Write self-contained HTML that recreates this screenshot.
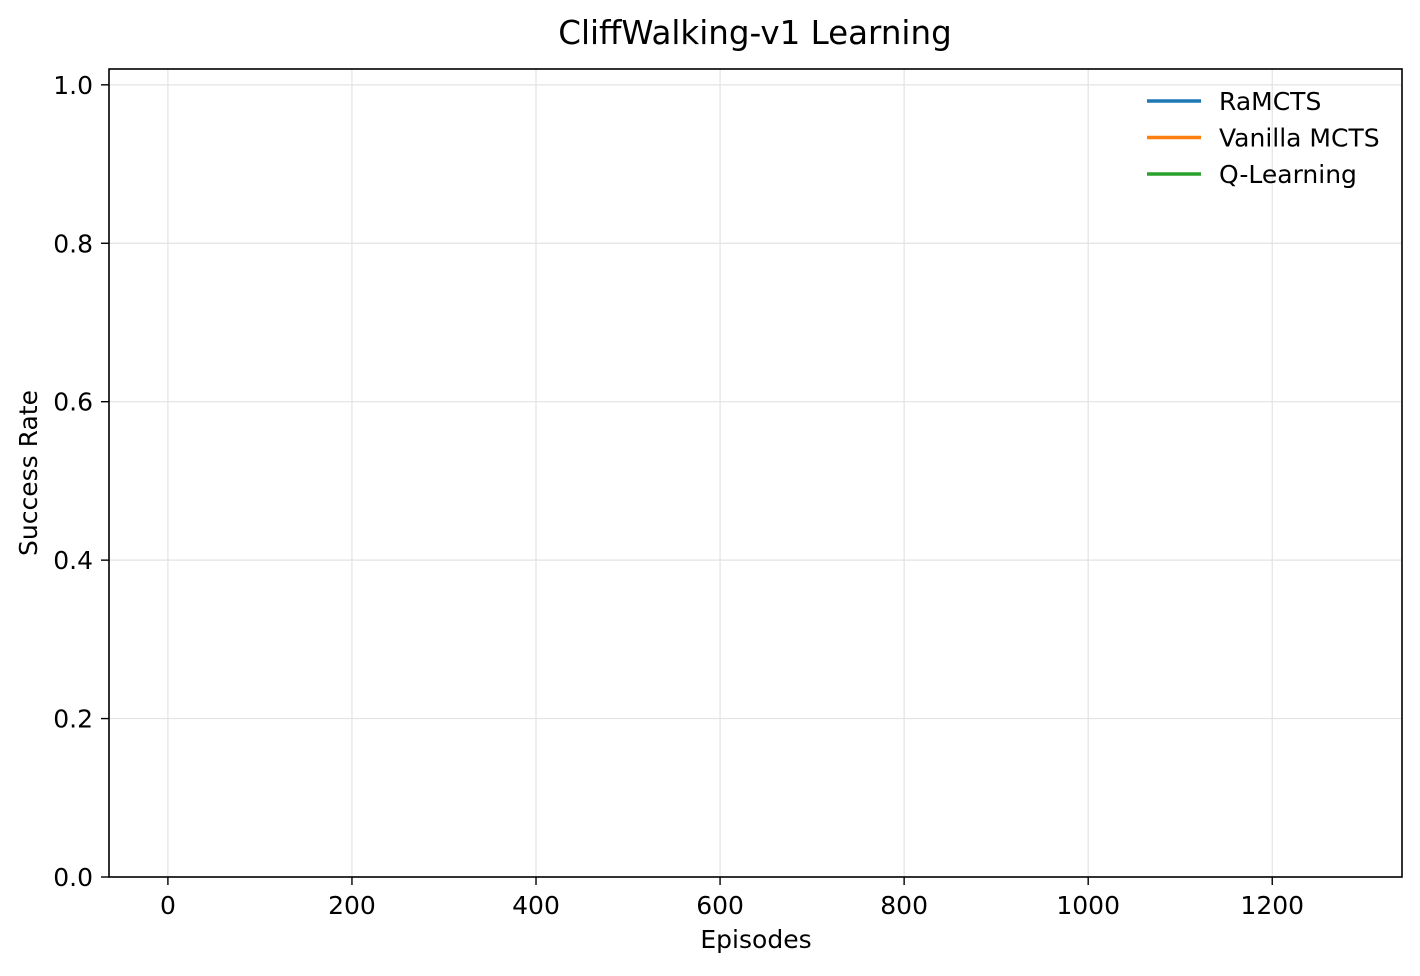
<!DOCTYPE html>
<html><head><meta charset="utf-8"><style>
body{margin:0;background:#fff;}
svg text{font-family:"DejaVu Sans","Liberation Sans",sans-serif;fill:#000;}
</style></head><body>
<svg id="chart" width="1420" height="971" viewBox="0 0 1420 971" xmlns="http://www.w3.org/2000/svg">
<rect width="1420" height="971" fill="#fff"/>
<text x="755" y="44" text-anchor="middle" font-size="32.5">CliffWalking-v1 Learning</text>
<g id="grid"></g>
<g id="series"></g>
<rect x="109" y="69" width="1293" height="808" fill="none" stroke="#000" stroke-width="1.6"/>
<g id="axes"></g>
<text x="756" y="948" text-anchor="middle" font-size="25">Episodes</text>
<text transform="translate(37,473) rotate(-90)" text-anchor="middle" font-size="25">Success Rate</text>
<g id="legend"></g>
</svg>
<script>
const xTicks = [0, 200, 400, 600, 800, 1000, 1200];
const yTicks = [0.0, 0.2, 0.4, 0.6, 0.8, 1.0];
const seriesNames = ["RaMCTS", "Vanilla MCTS", "Q-Learning"];
const episodes = [];
const ramctsValues = [];
const vanillaValues = [];
const qlearningValues = [];
const seriesColors = ["#1f77b4", "#ff7f0e", "#2ca02c"];

const NS = "http://www.w3.org/2000/svg";
const X0 = -64, X1 = 1341, Y0 = 0, Y1 = 1.02;
const L = 109, R = 1402, T = 69, B = 877;
const xs = v => L + (v - X0) / (X1 - X0) * (R - L);
const ys = v => B - (v - Y0) / (Y1 - Y0) * (B - T);
function mk(tag, attrs, parent) {
  const e = document.createElementNS(NS, tag);
  for (const k in attrs) e.setAttribute(k, attrs[k]);
  parent.appendChild(e);
  return e;
}
const grid = document.getElementById("grid"), axes = document.getElementById("axes");
xTicks.forEach(t => {
  const x = xs(t);
  const g = mk("line", {x1: x, x2: x, y1: T, y2: B, stroke: "#e3e3e3", "stroke-width": 1.2}, grid);
  
  
  const tk = mk("line", {x1: x, x2: x, y1: B, y2: B + 8, stroke: "#000", "stroke-width": 1.4}, axes);
  
  
  const lb = mk("text", {x: x, y: B + 37, "text-anchor": "middle", "font-size": 25}, axes);
  lb.textContent = t;
  
  
});
yTicks.forEach(t => {
  const y = ys(t);
  const g = mk("line", {x1: L, x2: R, y1: y, y2: y, stroke: "#e3e3e3", "stroke-width": 1.2}, grid);
  
  
  const tk = mk("line", {x1: L - 8, x2: L, y1: y, y2: y, stroke: "#000", "stroke-width": 1.4}, axes);
  
  
  const lb = mk("text", {x: L - 16, y: y + 9, "text-anchor": "end", "font-size": 25}, axes);
  lb.textContent = t.toFixed(1);
  
  
});
const sg = document.getElementById("series");
[ramctsValues, vanillaValues, qlearningValues].forEach((vals, i) => {
  const pts = vals.map((v, j) => xs(episodes[j]) + "," + ys(v)).join(" ");
  const pl = mk("polyline", {points: pts, fill: "none", stroke: seriesColors[i], "stroke-width": 3}, sg);
  
  
});
const lg = document.getElementById("legend");
seriesNames.forEach((n, i) => {
  const y = 101 + i * 36.5;
  const ln = mk("line", {x1: 1147, x2: 1201, y1: y, y2: y, stroke: seriesColors[i], "stroke-width": 3.5}, lg);
  
  
  const tx = mk("text", {x: 1219, y: y + 9, "font-size": 25}, lg);
  tx.textContent = n;
  
  
});
</script>
</body></html>
